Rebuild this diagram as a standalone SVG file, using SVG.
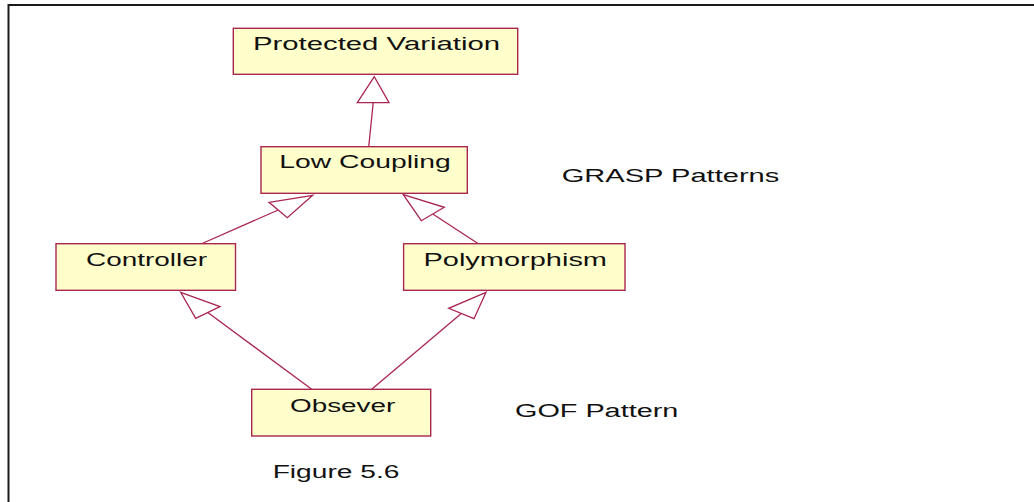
<svg xmlns="http://www.w3.org/2000/svg" width="1034" height="502" viewBox="0 0 1034 502">
  <style>
    .box { fill: #FFFFCC; stroke: #A8264F; stroke-width: 1.4; }
    .edge { fill: none; stroke: #A8264F; stroke-width: 1.3; }
    .head { fill: #FFFFFF; stroke: #A8264F; stroke-width: 1.3; stroke-linejoin: miter; }
    .label { font-family: "Liberation Sans", Arial, sans-serif; font-size: 18px; fill: #111111; }
    .frame { fill: none; stroke: #1a1a1a; stroke-width: 2; }
  </style>

  <rect x="0" y="0" width="1034" height="502" fill="#FFFFFF"/>

  <!-- page frame: top and left rules -->
  <path class="frame" d="M 8.5 502 L 8.5 5 L 1034 5"/>

  <!-- generalization connectors (hollow triangle heads) -->
  <g id="connectors">
    <line class="edge" x1="368.7" y1="147" x2="373.2" y2="102.7"/>
    <polygon class="head" points="374.3,76.7 357.3,102.7 389,102.7"/>

    <line class="edge" x1="201" y1="244" x2="278.2" y2="210"/>
    <polygon class="head" points="312.7,195.3 269,202.3 287.3,217.7"/>

    <line class="edge" x1="478.7" y1="244" x2="432.8" y2="214"/>
    <polygon class="head" points="403.3,194.7 444.3,207.3 421.3,220.7"/>

    <line class="edge" x1="311.7" y1="389.3" x2="207.8" y2="312.5"/>
    <polygon class="head" points="180.7,292.3 220,306.7 195.7,318.3"/>

    <line class="edge" x1="371.7" y1="389.3" x2="461.3" y2="313.5"/>
    <polygon class="head" points="486,292.3 448.7,308.3 474,318.7"/>
  </g>

  <g id="protected-variation">
    <rect class="box" x="233.3" y="28.3" width="284.4" height="46"/>
    <text class="label" x="253" y="50" textLength="247" lengthAdjust="spacingAndGlyphs">Protected Variation</text>
  </g>

  <g id="low-coupling">
    <rect class="box" x="261" y="146.7" width="206.3" height="46.6"/>
    <text class="label" x="279.3" y="167.7" textLength="171.4" lengthAdjust="spacingAndGlyphs">Low Coupling</text>
  </g>

  <g id="controller">
    <rect class="box" x="56" y="243.7" width="179.5" height="46.6"/>
    <text class="label" x="86" y="265.7" textLength="121" lengthAdjust="spacingAndGlyphs">Controller</text>
  </g>

  <g id="polymorphism">
    <rect class="box" x="403.6" y="243.7" width="221.4" height="46.6"/>
    <text class="label" x="423.5" y="266.2" textLength="183.5" lengthAdjust="spacingAndGlyphs">Polymorphism</text>
  </g>

  <g id="obsever">
    <rect class="box" x="251.7" y="389.3" width="179" height="46.7"/>
    <text class="label" x="290" y="411.7" textLength="105.3" lengthAdjust="spacingAndGlyphs">Obsever</text>
  </g>

  <!-- free-standing captions -->
  <text class="label" x="561.7" y="181.7" textLength="217.6" lengthAdjust="spacingAndGlyphs">GRASP Patterns</text>
  <text class="label" x="515" y="416.7" textLength="163.3" lengthAdjust="spacingAndGlyphs">GOF Pattern</text>
  <text class="label" x="272.7" y="478.3" textLength="126.7" lengthAdjust="spacingAndGlyphs">Figure 5.6</text>
</svg>
